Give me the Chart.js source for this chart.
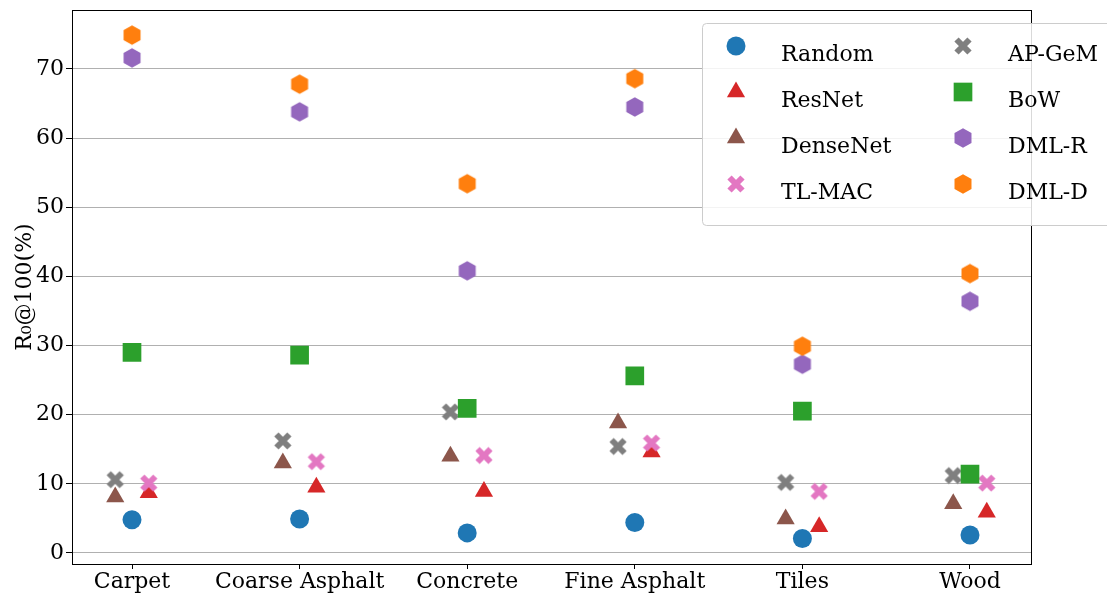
<!DOCTYPE html>
<html>
<head>
<meta charset="utf-8">
<script src="https://cdn.jsdelivr.net/npm/chart.js@4/dist/chart.umd.min.js"></script>
<style>
  html, body { margin: 0; padding: 0; background: #fff; overflow: hidden; }
  #wrap { width: 1107px; height: 593px; overflow: hidden; }
  #c { display: block; margin-top: -3px; }
</style>
</head>
<body>
<div id="wrap"><canvas id="c" width="1107" height="596"></canvas></div>
<script>
// categories along x
const categories = ['Carpet', 'Coarse Asphalt', 'Concrete', 'Fine Asphalt', 'Tiles', 'Wood'];
const yTicks = [0, 10, 20, 30, 40, 50, 60, 70];

// R0@100 (%) per method, one value per category
const random   = [4.8, 4.9, 2.9, 4.4, 2.1, 2.6];
const resnet   = [8.7, 9.5, 8.9, 14.6, 3.8, 5.9];
const densenet = [8.1, 13.0, 14.0, 18.8, 4.9, 7.1];
const tlmac    = [10.1, 13.2, 14.1, 15.9, 8.9, 10.1];
const apgem    = [10.6, 16.2, 20.4, 15.4, 10.2, 11.2];
const bow      = [29.0, 28.6, 20.9, 25.6, 20.5, 11.4];
const dmlR     = [71.6, 63.8, 40.8, 64.5, 27.3, 36.4];
const dmlD     = [74.9, 67.8, 53.4, 68.6, 29.9, 40.4];

const FONT = "'DejaVu Serif', 'Liberation Serif', serif";

// hexagon marker (pointy top), like matplotlib 'h'
function hexMarker(color) {
  const c = document.createElement('canvas');
  c.width = 22; c.height = 22;
  const g = c.getContext('2d');
  g.fillStyle = color;
  g.beginPath();
  for (let k = 0; k < 6; k++) {
    const a = -Math.PI / 2 + k * Math.PI / 3;
    const px = 11 + 9.8 * Math.cos(a), py = 11 + 9.8 * Math.sin(a);
    if (k === 0) g.moveTo(px, py); else g.lineTo(px, py);
  }
  g.closePath();
  g.fill();
  return c;
}

// filled X marker, like matplotlib 'X'
function xMarker(color) {
  const c = document.createElement('canvas');
  c.width = 22; c.height = 22;
  const g = c.getContext('2d');
  g.strokeStyle = color;
  g.lineWidth = 6;
  g.lineCap = 'butt';
  g.beginPath();
  g.moveTo(11 - 6.5, 11 - 6.5); g.lineTo(11 + 6.5, 11 + 6.5);
  g.moveTo(11 + 6.5, 11 - 6.5); g.lineTo(11 - 6.5, 11 + 6.5);
  g.stroke();
  return c;
}

const series = [
  { label: 'Random',    data: random,   color: '#1f77b4', style: 'circle',   r: 9.5,  dx: 0 },
  { label: 'ResNet',    data: resnet,   color: '#d62728', style: 'triangle', r: 10.5, dx: 0.1 },
  { label: 'DenseNet',  data: densenet, color: '#8c564b', style: 'triangle', r: 10.5, dx: -0.1 },
  { label: 'TL-MAC',    data: tlmac,    color: '#e377c2', style: 'X',        r: 10,   dx: 0.1 },
  { label: 'AP-GeM',    data: apgem,    color: '#7f7f7f', style: 'X',        r: 10,   dx: -0.1 },
  { label: 'BoW',       data: bow,      color: '#2ca02c', style: 'rect',     r: 13.2, dx: 0 },
  { label: 'DML-R',     data: dmlR,     color: '#9467bd', style: 'hex',      r: 10,   dx: 0 },
  { label: 'DML-D',     data: dmlD,     color: '#ff7f0e', style: 'hex',      r: 10,   dx: 0 }
];

series.forEach(s => {
  if (s.style === 'hex') s.pointStyle = hexMarker(s.color);
  else if (s.style === 'X') s.pointStyle = xMarker(s.color);
  else s.pointStyle = s.style;
});

const datasets = series.map((s, i) => ({
  label: s.label,
  data: s.data.map((v, j) => ({ x: j + s.dx, y: v })),
  showLine: false,
  pointStyle: s.pointStyle,
  pointRadius: s.r,
  pointBackgroundColor: s.color,
  pointBorderColor: s.color,
  pointBorderWidth: 0,
  order: series.length - i
}));

// canvas is shifted up 3px by css, legend coords account for it
const SHIFT = 3;

// frame + legend drawn by hand (legend sits partly outside the plot)
const framePlugin = {
  id: 'frame',
  afterDraw(chart) {
    const { ctx, chartArea: a } = chart;
    ctx.save();
    ctx.strokeStyle = '#000';
    ctx.lineWidth = 1;
    ctx.strokeRect(Math.round(a.left) + 0.5, Math.round(a.top) + 0.5,
                   Math.round(a.right - a.left), Math.round(a.bottom - a.top));

    // legend box
    const bx = 702.5, by = 23.5 + SHIFT, bw = 420, bh = 202, rad = 4;
    ctx.beginPath();
    ctx.moveTo(bx + rad, by);
    ctx.lineTo(bx + bw - rad, by);
    ctx.arcTo(bx + bw, by, bx + bw, by + rad, rad);
    ctx.lineTo(bx + bw, by + bh - rad);
    ctx.arcTo(bx + bw, by + bh, bx + bw - rad, by + bh, rad);
    ctx.lineTo(bx + rad, by + bh);
    ctx.arcTo(bx, by + bh, bx, by + bh - rad, rad);
    ctx.lineTo(bx, by + rad);
    ctx.arcTo(bx, by, bx + rad, by, rad);
    ctx.closePath();
    ctx.fillStyle = 'rgba(255,255,255,0.85)';
    ctx.fill();
    ctx.strokeStyle = '#cccccc';
    ctx.stroke();

    const colX = [736, 963], textX = [781, 1008];
    const rowY = [46, 92, 138, 184];
    ctx.font = '22px ' + FONT;
    ctx.textBaseline = 'middle';
    ctx.textAlign = 'left';
    series.forEach((s, i) => {
      const col = Math.floor(i / 4), row = i % 4;
      const mx = colX[col], my = rowY[row] + SHIFT;
      ctx.fillStyle = s.color;
      ctx.strokeStyle = s.color;
      Chart.helpers.drawPoint(ctx, { pointStyle: s.pointStyle, radius: s.r, borderWidth: 0, rotation: 0 }, mx, my);
      ctx.fillStyle = '#000';
      ctx.fillText(s.label, textX[col], my + 9);
    });
    ctx.restore();
  }
};

new Chart(document.getElementById('c'), {
  type: 'scatter',
  data: { datasets },
  plugins: [framePlugin],
  options: {
    responsive: false,
    animation: false,
    layout: { padding: { top: 7, right: 76, left: 0, bottom: 0 } },
    plugins: { legend: { display: false }, tooltip: { enabled: false } },
    scales: {
      x: {
        type: 'linear',
        min: -0.358,
        max: 5.364,
        afterBuildTicks: sc => { sc.ticks = categories.map((_, i) => ({ value: i })); },
        afterFit: sc => { sc.height = 29; sc.paddingLeft = 0; sc.paddingRight = 0; },
        ticks: {
          color: '#000',
          font: { family: FONT, size: 22 },
          padding: 0,
          maxRotation: 0,
          autoSkip: false,
          callback: v => categories[v]
        },
        grid: { drawOnChartArea: false, drawTicks: true, tickLength: 5, tickColor: '#000' },
        border: { display: true, color: '#000' }
      },
      y: {
        min: -1.6,
        max: 78.5,
        afterBuildTicks: sc => { sc.ticks = yTicks.map(v => ({ value: v })); },
        afterFit: sc => { sc.width = 72; sc.paddingTop = 0; sc.paddingBottom = 0; },
        ticks: {
          color: '#000',
          font: { family: FONT, size: 22 },
          padding: 2
        },
        grid: { color: '#b0b0b0', lineWidth: 1, drawTicks: true, tickLength: 6, tickColor: '#000' },
        border: { display: true, color: '#000' },
        title: {
          display: true,
          text: 'R₀@100(%)',
          color: '#000',
          font: { family: FONT, size: 22 },
          padding: { top: 12, bottom: 0 }
        }
      }
    }
  }
});
</script>
</body>
</html>
